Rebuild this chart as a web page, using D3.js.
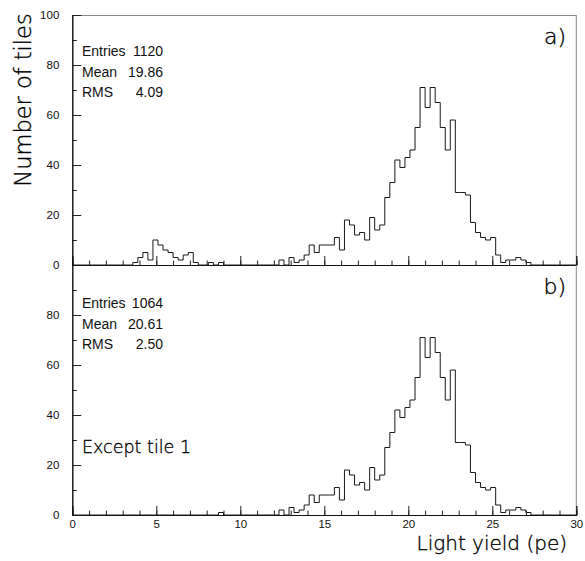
<!DOCTYPE html>
<html>
<head>
<meta charset="utf-8">
<script src="https://cdn.jsdelivr.net/npm/d3@7"></script>
<style>
  html, body { margin: 0; padding: 0; background: #fff; }
  svg { display: block; }
  .tick-label { font-family: "Liberation Sans", Arial, sans-serif; font-size: 11.5px; fill: #111; }
  .big { font-family: "DejaVu Sans", sans-serif; font-weight: 200; fill: #000; stroke: #000; stroke-width: 0.35px; }
  .stats { font-family: "Liberation Sans", Arial, sans-serif; font-size: 14px; fill: #111; }
</style>
</head>
<body>
<svg id="chart" width="585" height="561"></svg>
<script>
// Light-yield histograms, 100 bins of 0.3 pe from 0 to 30 pe.
const binWidth = 0.3;

// All tiles
const countsAll = [
  0, 0, 0, 0, 0, 0, 0, 0, 0, 0,
  0, 0, 1, 3, 5, 2, 10, 8, 6, 5,
  3, 2, 4, 5, 1, 0, 0, 1, 0, 1,
  0, 0, 0, 0, 0, 0, 0, 0, 0, 0,
  0, 2, 0, 3, 1, 2, 4, 8, 5, 8,
  8, 8, 11, 6, 18, 16, 12, 13, 10, 19,
  14, 16, 27, 33, 42, 39, 43, 46, 55, 71,
  63, 71, 65, 55, 46, 58, 29, 29, 28, 17,
  13, 11, 10, 11, 4, 1, 2, 2, 3, 2,
  1, 0, 0, 0, 0, 0, 0, 0, 0, 0
];

// All tiles except tile 1
const countsExceptTile1 = [
  0, 0, 0, 0, 0, 0, 0, 0, 0, 0,
  0, 0, 0, 0, 0, 0, 0, 0, 0, 0,
  0, 0, 0, 0, 0, 0, 0, 0, 0, 1,
  0, 0, 0, 0, 0, 0, 0, 0, 0, 0,
  0, 2, 0, 3, 1, 2, 4, 8, 5, 8,
  8, 8, 11, 6, 18, 16, 12, 13, 10, 19,
  14, 16, 27, 33, 42, 39, 43, 46, 55, 71,
  63, 71, 65, 55, 46, 58, 29, 29, 28, 17,
  13, 11, 10, 11, 4, 1, 2, 2, 3, 2,
  1, 0, 0, 0, 0, 0, 0, 0, 0, 0
];

const xMajorTicks = [0, 5, 10, 15, 20, 25, 30];
const yMajorTicksTop = [0, 20, 40, 60, 80, 100];
const yMajorTicksBottom = [0, 20, 40, 60, 80];

const statsLabels = ["Entries", "Mean", "RMS"];
const statsAll = ["1120", "19.86", "4.09"];
const statsExceptTile1 = ["1064", "20.61", "2.50"];

const panels = [
  { counts: countsAll, stats: statsAll, tag: "a)", yTicks: yMajorTicksTop, note: null },
  { counts: countsExceptTile1, stats: statsExceptTile1, tag: "b)", yTicks: yMajorTicksBottom, note: "Except tile 1" }
];

const svg = d3.select("#chart");
const left = 72.3, right = 576.3;
const panelTop = [15, 265], panelH = 250;

const x = d3.scaleLinear().domain([0, 30]).range([left, right]);

panels.forEach((p, k) => {
  const top = panelTop[k], bottom = top + panelH;
  const y = d3.scaleLinear().domain([0, 100]).range([bottom, top]);
  const g = svg.append("g");

  // frame: grey top/right, black left/bottom
  if (k === 0) {
    g.append("line").attr("x1", left).attr("x2", right).attr("y1", top + 0.5).attr("y2", top + 0.5)
      .attr("stroke", "#8a8a8a").attr("stroke-width", 1);
  }
  g.append("line").attr("x1", right).attr("x2", right).attr("y1", top).attr("y2", bottom)
    .attr("stroke", "#8a8a8a").attr("stroke-width", 1);

  // x ticks pointing inwards (up)
  const xMinor = g.append("g").attr("transform", `translate(0,${bottom})`)
    .call(d3.axisTop(x).tickValues(d3.range(0, 31, 1)).tickSize(4.5).tickFormat(""));
  const xMajor = g.append("g").attr("transform", `translate(0,${bottom})`)
    .call(d3.axisTop(x).tickValues(xMajorTicks).tickSize(9).tickFormat(""));
  [xMinor, xMajor].forEach(a => {
    a.select(".domain").attr("stroke", "#111");
    a.selectAll(".tick line").attr("stroke", "#222");
  });

  // y ticks pointing inwards (right)
  const yMinor = g.append("g").attr("transform", `translate(${left},0)`)
    .call(d3.axisRight(y).tickValues(d3.range(0, 101, 10)).tickSize(4.5).tickFormat(""));
  const yMajor = g.append("g").attr("transform", `translate(${left},0)`)
    .call(d3.axisRight(y).tickValues(p.yTicks).tickSize(9).tickFormat(""));
  [yMinor, yMajor].forEach(a => {
    a.select(".domain").attr("stroke", "#111");
    a.selectAll(".tick line").attr("stroke", "#222");
  });

  // y tick labels
  const yLab = g.append("g").attr("transform", `translate(${left},0)`)
    .call(d3.axisLeft(y).tickValues(p.yTicks).tickSize(0).tickPadding(13));
  yLab.select(".domain").remove();
  yLab.selectAll("text").attr("class", "tick-label").attr("font-family", null).attr("font-size", null);

  // histogram outline
  const pts = [[x(0), y(0)]];
  p.counts.forEach((c, i) => {
    pts.push([x(i * binWidth), y(c)]);
    pts.push([x((i + 1) * binWidth), y(c)]);
  });
  pts.push([x(30), y(0)]);
  g.append("path").attr("d", d3.line()(pts))
    .attr("fill", "none").attr("stroke", "#1a1a1a").attr("stroke-width", 1);

  // statistics box text
  const s0 = k === 0 ? 56 : 308;
  statsLabels.forEach((lab, j) => {
    g.append("text").attr("class", "stats").attr("x", 82).attr("y", s0 + j * 20.5).text(lab);
    g.append("text").attr("class", "stats").attr("x", 163).attr("y", s0 + j * 20.5)
      .attr("text-anchor", "end").text(p.stats[j]);
  });

  // panel tag
  g.append("text").attr("class", "big").attr("x", 566).attr("y", top + 29)
    .attr("text-anchor", "end").attr("font-size", 22).text(p.tag);

  if (p.note) {
    g.append("text").attr("class", "big").attr("x", 82).attr("y", 453)
      .attr("font-size", 17.5).text(p.note);
  }

  // x tick labels under the lower panel
  if (k === panels.length - 1) {
    const xl = g.append("g").attr("transform", `translate(0,${bottom})`)
      .call(d3.axisBottom(x).tickValues(xMajorTicks).tickSize(0).tickPadding(5));
    xl.select(".domain").remove();
    xl.selectAll("text").attr("class", "tick-label").attr("font-family", null).attr("font-size", null);
  }
});

// axis titles
svg.append("text").attr("class", "big")
  .attr("transform", "translate(31,100) rotate(-90)")
  .attr("text-anchor", "middle").attr("font-size", 22.5).text("Number of tiles");
svg.append("text").attr("class", "big")
  .attr("x", 567).attr("y", 550).attr("text-anchor", "end")
  .attr("font-size", 20).text("Light yield (pe)");
</script>
</body>
</html>
